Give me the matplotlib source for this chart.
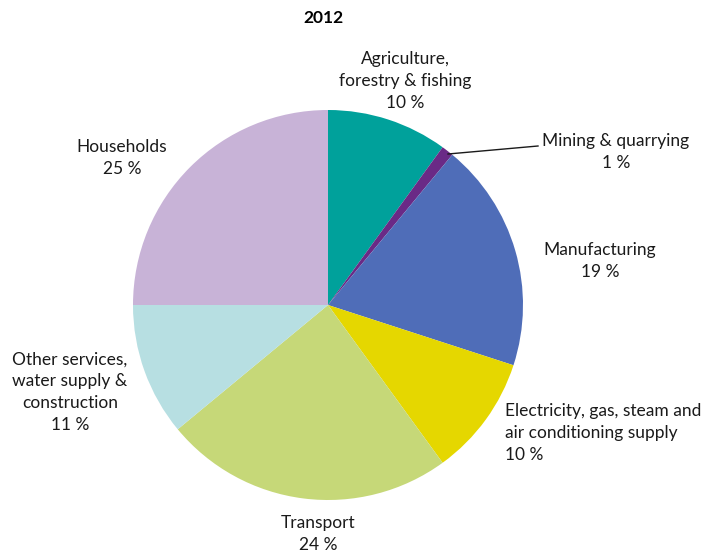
import matplotlib

matplotlib.use("Agg")

import matplotlib.pyplot as plt


# Datos del grafico (porcentajes 2012)
sectors = [
    "Agriculture,\nforestry & fishing",
    "Mining & quarrying",
    "Manufacturing",
    "Electricity, gas, steam and\nair conditioning supply",
    "Transport",
    "Other services,\nwater supply &\nconstruction",
    "Households",
]
shares = [10, 1, 19, 10, 24, 11, 25]
colors = ["#00a19b", "#6a2a86", "#4f6db8", "#e5d700", "#c6d878", "#b7dfe2", "#c8b3d7"]

plt.rcParams["font.family"] = ["Lato", "DejaVu Sans"]
plt.rcParams["font.size"] = 12.5

W, H = 707, 556
fig = plt.figure(figsize=(W / 100, H / 100), dpi=100)
ax = fig.add_axes([0, 0, 1, 1])

cx, cy, r = 328, H - 305, 195
ax.pie(
    shares,
    colors=colors,
    startangle=90,
    counterclock=False,
    center=(cx, cy),
    radius=r,
    frame=True,
    wedgeprops={"linewidth": 0},
)
ax.set_xlim(0, W)
ax.set_ylim(0, H)
ax.set_aspect("equal")
ax.axis("off")

ax.text(323, H - 18, "2012", ha="center", va="center", fontsize=12.5, fontweight="bold")

# posiciones de etiquetas (pixeles, origen arriba-izquierda)
label_pos = [
    (405, 81, "center"),
    (616, 152, "center"),
    (600, 261, "center"),
    (505, 433, "left"),
    (318, 534, "center"),
    (70, 392, "center"),
    (122, 158, "center"),
]
for name, share, (x, y, ha) in zip(sectors, shares, label_pos):
    ax.text(x, H - y, f"{name}\n{share} %", ha=ha, va="center",
            multialignment=ha, linespacing=1.45, color="#1a1a1a")

# linea guia para mineria
ax.plot([448, 538], [H - 154, H - 146], color="#1a1a1a", linewidth=1)

fig.savefig("out.png", dpi=100)
